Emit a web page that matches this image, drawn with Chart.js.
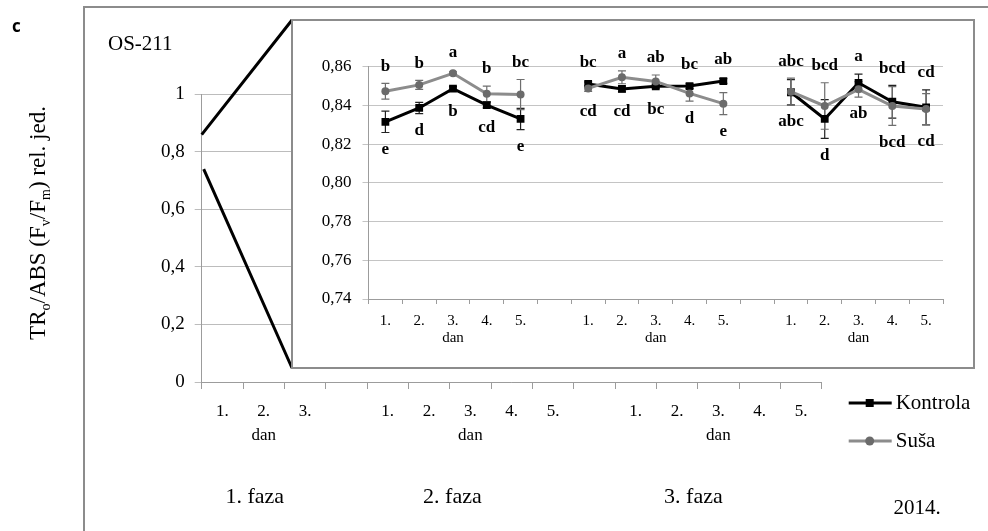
<!DOCTYPE html>
<html>
<head>
<meta charset="utf-8">
<script src="https://cdn.jsdelivr.net/npm/chart.js@4.4.0/dist/chart.umd.min.js"></script>
<style>
  html, body { margin: 0; padding: 0; background: #fff; }
  body { position: relative; width: 988px; height: 531px; overflow: hidden; }
  #frame { position: absolute; left: 83px; top: 6px; width: 960px; height: 560px;
           border-top: 2px solid #8c8c8c; border-left: 2px solid #8c8c8c; }
  #outer { position: absolute; left: 0; top: 0; }
  #insetWrap { position: absolute; left: 291px; top: 19px; width: 684px; height: 350px;
               box-sizing: border-box; border: 2px solid #8c8c8c; background: #fff; }
  #inset { display: block; }
</style>
</head>
<body>
<div id="frame"></div>
<canvas id="outer" width="988" height="531"></canvas>
<div id="insetWrap"><canvas id="inset" width="680" height="346"></canvas></div>
<script>
// --- data ---------------------------------------------------------------
const OUTER_GROUPS = [3, 5, 5];          // days per phase on the main axis
const INSET_GROUPS = [5, 5, 5];          // days per block in the zoomed inset
const DAY_TITLE = 'dan';
const PHASES = ['1. faza', '2. faza', '3. faza'];
const YEAR = '2014.';
const CULTIVAR = 'OS-211';
const PANEL = 'c';

const OUTER_Y_TICKS = [0, 0.2, 0.4, 0.6, 0.8, 1];
const INSET_RANGE = [0.74, 0.86];

const SERIES_NAMES = ['Kontrola', 'Suša'];
// null = empty slot between blocks
const KONTROLA = [0.8315, 0.8387, 0.8487, 0.8402, 0.8330, null,
                  0.8511, 0.8485, 0.8499, 0.8500, 0.8526, null,
                  0.8468, 0.8330, 0.8517, 0.8419, 0.8390];
const KONTROLA_ERR = [0.0055, 0.0029, 0.0010, 0.0015, 0.0055, null,
                      0.0010, 0.0015, 0.0010, 0.0012, 0.0012, null,
                      0.0065, 0.0100, 0.0045, 0.0085, 0.0090];
const SUSA = [0.8473, 0.8506, 0.8566, 0.8460, 0.8456, null,
              0.8488, 0.8545, 0.8524, 0.8462, 0.8409, null,
              0.8471, 0.8397, 0.8483, 0.8397, 0.8381];
const SUSA_ERR = [0.0041, 0.0023, 0.0008, 0.0040, 0.0078, null,
                  0.0015, 0.0033, 0.0033, 0.0040, 0.0057, null,
                  0.0070, 0.0120, 0.0040, 0.0100, 0.0080];
const KONTROLA_LETTERS = ['e', 'd', 'b', 'cd', 'e', '',
                          'bc', 'cd', 'bc', 'bc', 'ab', '',
                          'abc', 'd', 'a', 'bcd', 'cd'];
const SUSA_LETTERS = ['b', 'b', 'a', 'b', 'bc', '',
                      'cd', 'a', 'ab', 'd', 'e', '',
                      'abc', 'bcd', 'ab', 'bcd', 'cd'];

// --- helpers ------------------------------------------------------------
const SERIF = '"Liberation Serif", "Times New Roman", serif';
const GRID = '#bcbcbc';
const AXIS = '#9c9c9c';
const K_COLOR = '#000000';
const S_LINE = '#8c8c8c';
const S_POINT = '#6b6b6b';

// day labels with a gap slot between groups, "dan" under the middle day
function dayLabels(groups) {
  const out = [];
  groups.forEach((n, g) => {
    if (g > 0) out.push('');
    const mid = Math.floor(n / 2);
    for (let d = 0; d < n; d++) {
      out.push(d === mid ? [`${d + 1}.`, DAY_TITLE] : `${d + 1}.`);
    }
  });
  return out;
}

const comma = (v, digits) => v.toFixed(digits).replace('.', ',');

function drawRotatedRich(ctx, parts, x, y, size) {
  ctx.save();
  ctx.translate(x, y);
  ctx.rotate(-Math.PI / 2);
  const main = `${size}px ${SERIF}`;
  const sub = `${Math.round(size * 0.62)}px ${SERIF}`;
  let total = 0;
  parts.forEach(([t, s]) => { ctx.font = s ? sub : main; total += ctx.measureText(t).width; });
  let cx = -total / 2;
  ctx.textBaseline = 'middle';
  ctx.textAlign = 'left';
  ctx.fillStyle = '#000';
  parts.forEach(([t, s]) => {
    ctx.font = s ? sub : main;
    ctx.fillText(t, cx, s ? size * 0.32 : 0);
    cx += ctx.measureText(t).width;
  });
  ctx.restore();
}

// --- outer chart: decorations, zoom lines, legend --------------------------
const outerDecor = {
  id: 'outerDecor',
  afterDraw(chart) {
    const { ctx, chartArea, scales } = chart;
    const wrap = document.getElementById('insetWrap');

    // zoom lines from the axis to the inset corners
    ctx.save();
    ctx.strokeStyle = '#000';
    ctx.lineWidth = 3;
    ctx.beginPath();
    ctx.moveTo(chartArea.left, scales.y.getPixelForValue(INSET_RANGE[1]));
    ctx.lineTo(wrap.offsetLeft + 1, wrap.offsetTop + 1);
    ctx.moveTo(chartArea.left + 2, scales.y.getPixelForValue(INSET_RANGE[0]));
    ctx.lineTo(wrap.offsetLeft + 1, wrap.offsetTop + wrap.offsetHeight - 1);
    ctx.stroke();
    ctx.restore();

    ctx.save();
    ctx.fillStyle = '#000';
    ctx.textBaseline = 'middle';

    ctx.font = 'bold 17px "Open Sans", "DejaVu Sans", sans-serif';
    ctx.textAlign = 'left';
    ctx.fillText(PANEL, 12, 27);

    ctx.font = `21px ${SERIF}`;
    ctx.fillText(CULTIVAR, 108, 44);

    // phase captions under each group of days
    ctx.font = `22px ${SERIF}`;
    ctx.textAlign = 'center';
    const shifts = [-9, -18, -25];
    let start = 0;
    OUTER_GROUPS.forEach((n, g) => {
      const mid = start + Math.floor(n / 2);
      ctx.fillText(PHASES[g], scales.x.getPixelForValue(mid) + shifts[g], 497);
      start += n + 1;
    });
    ctx.font = `21px ${SERIF}`;
    ctx.fillText(YEAR, 917, 508);

    // legend
    const lx = chartArea.right + 27;
    const items = [
      { y: 403, line: K_COLOR, point: K_COLOR, style: 'rect' },
      { y: 441, line: S_LINE, point: S_POINT, style: 'circle' },
    ];
    items.forEach((it, i) => {
      ctx.strokeStyle = it.line;
      ctx.lineWidth = 3;
      ctx.beginPath();
      ctx.moveTo(lx, it.y);
      ctx.lineTo(lx + 43, it.y);
      ctx.stroke();
      ctx.fillStyle = it.point;
      if (it.style === 'rect') {
        ctx.fillRect(lx + 17, it.y - 4, 8, 8);
      } else {
        ctx.beginPath();
        ctx.arc(lx + 21, it.y, 4.5, 0, Math.PI * 2);
        ctx.fill();
      }
      ctx.fillStyle = '#000';
      ctx.textAlign = 'left';
      ctx.font = `21px ${SERIF}`;
      ctx.fillText(SERIES_NAMES[i], lx + 47, it.y);
    });

    drawRotatedRich(ctx, [['TR', 0], ['o', 1], ['/ABS (F', 0], ['v', 1], ['/F', 0], ['m', 1], [') rel. jed.', 0]],
      39, 223, 23);
    ctx.restore();
  }
};

new Chart(document.getElementById('outer'), {
  type: 'line',
  data: { labels: dayLabels(OUTER_GROUPS), datasets: [] },
  options: {
    responsive: false,
    animation: false,
    devicePixelRatio: 1,
    layout: { padding: { top: 94.3, right: 166.3, bottom: 0, left: 0 } },
    plugins: { legend: { display: false }, tooltip: { enabled: false } },
    scales: {
      x: {
        offset: true,
        grid: { offset: true, drawOnChartArea: false, tickLength: 7, color: AXIS },
        border: { color: AXIS, width: 1 },
        ticks: { autoSkip: false, maxRotation: 0, padding: 10,
                 color: '#000', font: { family: SERIF, size: 17, lineHeight: 1.45 } },
        afterFit: s => { s.height = 149; }
      },
      y: {
        min: 0, max: 1,
        afterBuildTicks: s => { s.ticks = OUTER_Y_TICKS.map(v => ({ value: v })); },
        grid: { color: GRID, tickLength: 7 },
        border: { color: AXIS, width: 1 },
        ticks: { padding: 10, color: '#000', font: { family: SERIF, size: 19 },
                 callback: v => v === 0 ? '0' : comma(v, 1).replace(/,0$/, '') },
        afterFit: s => { s.width = 201.7; }
      }
    }
  },
  plugins: [outerDecor]
});

// --- inset chart ----------------------------------------------------------
const ERRS = [KONTROLA_ERR, SUSA_ERR];
const LETTERS = [KONTROLA_LETTERS, SUSA_LETTERS];

const errorBars = {
  id: 'errorBars',
  beforeDatasetsDraw(chart) {
    const { ctx, scales } = chart;
    ctx.save();
    chart.data.datasets.forEach((ds, di) => {
      ctx.strokeStyle = di === 0 ? '#222' : '#6e6e6e';
      ctx.lineWidth = 1.2;
      ds.data.forEach((v, i) => {
        if (v == null) return;
        const x = scales.x.getPixelForValue(i);
        const top = scales.y.getPixelForValue(v + ERRS[di][i]);
        const bot = scales.y.getPixelForValue(v - ERRS[di][i]);
        ctx.beginPath();
        ctx.moveTo(x, top); ctx.lineTo(x, bot);
        ctx.moveTo(x - 4, top); ctx.lineTo(x + 4, top);
        ctx.moveTo(x - 4, bot); ctx.lineTo(x + 4, bot);
        ctx.stroke();
      });
    });
    ctx.restore();
  },
  afterDatasetsDraw(chart) {
    const { ctx, scales } = chart;
    const [k, s] = chart.data.datasets.map(d => d.data);
    ctx.save();
    ctx.font = `bold 17px ${SERIF}`;
    ctx.fillStyle = '#000';
    ctx.textAlign = 'center';
    ctx.textBaseline = 'middle';
    k.forEach((kv, i) => {
      if (kv == null) return;
      const x = scales.x.getPixelForValue(i);
      const upper = s[i] >= kv ? 1 : 0;   // series that gets the label above
      const lower = 1 - upper;
      const vals = [k[i], s[i]];
      const upV = vals[upper], loV = vals[lower];
      const upY = Math.min(scales.y.getPixelForValue(upV + ERRS[upper][i]) - 17,
                           scales.y.getPixelForValue(upV) - 21);
      const loY = Math.max(scales.y.getPixelForValue(loV - ERRS[lower][i]) + 17,
                           scales.y.getPixelForValue(loV) + 23);
      ctx.fillText(LETTERS[upper][i], x, upY);
      ctx.fillText(LETTERS[lower][i], x, loY);
    });
    ctx.restore();
  }
};

new Chart(document.getElementById('inset'), {
  type: 'line',
  data: {
    labels: dayLabels(INSET_GROUPS),
    datasets: [
      { label: SERIES_NAMES[0], data: KONTROLA, borderColor: K_COLOR, backgroundColor: K_COLOR,
        borderWidth: 3, pointStyle: 'rect', pointRadius: 5.5, pointBorderWidth: 0,
        spanGaps: false, tension: 0, order: 1 },
      { label: SERIES_NAMES[1], data: SUSA, borderColor: S_LINE, backgroundColor: S_POINT,
        pointBorderColor: S_POINT, borderWidth: 3, pointStyle: 'circle', pointRadius: 4,
        pointBorderWidth: 0, spanGaps: false, tension: 0, order: 0 }
    ]
  },
  options: {
    responsive: false,
    animation: false,
    devicePixelRatio: 1,
    layout: { padding: { top: 45.7, right: 30, bottom: 0, left: 0 } },
    plugins: { legend: { display: false }, tooltip: { enabled: false } },
    scales: {
      x: {
        offset: true,
        grid: { offset: true, drawOnChartArea: false, tickLength: 5, color: AXIS },
        border: { color: AXIS, width: 1 },
        ticks: { autoSkip: false, maxRotation: 0, padding: 8,
                 color: '#000', font: { family: SERIF, size: 15, lineHeight: 1.15 } },
        afterFit: s => { s.height = 68; }
      },
      y: {
        min: INSET_RANGE[0], max: INSET_RANGE[1],
        ticks: { stepSize: 0.02, padding: 11, color: '#000', font: { family: SERIF, size: 17 },
                 callback: v => comma(v, 2) },
        grid: { color: '#c4c4c4', tickLength: 6 },
        border: { color: AXIS, width: 1 },
        afterFit: s => { s.width = 75.5; }
      }
    }
  },
  plugins: [errorBars]
});
</script>
</body>
</html>
